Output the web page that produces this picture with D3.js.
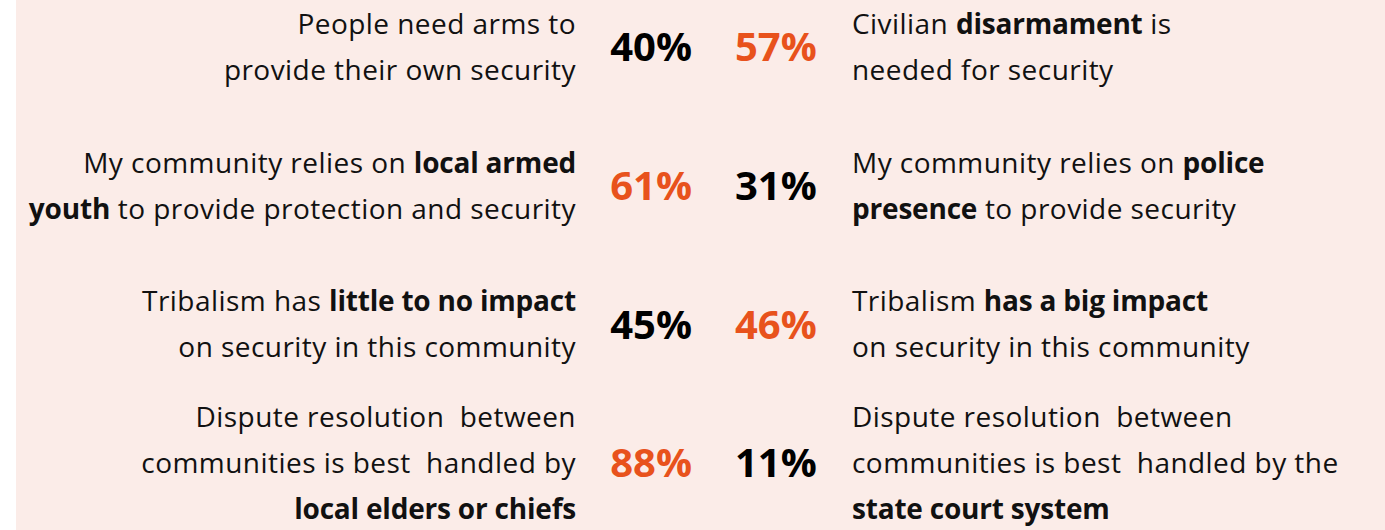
<!DOCTYPE html>
<html>
<head>
<meta charset="utf-8">
<script src="https://cdn.jsdelivr.net/npm/d3@7"></script>
<style>
  html, body { margin: 0; padding: 0; background: #ffffff; }
  svg { display: block; }
  text { white-space: pre; }
</style>
</head>
<body>
<svg id="chart" width="1385" height="530"></svg>
<script>
// ---- Data ----
const rows = ["arms", "youth", "tribalism", "dispute"];
const leftStatements = [
  ["People need arms to", "provide their own security"],
  ["My community relies on **local armed**", "**youth** to provide protection and security"],
  ["Tribalism has **little to no impact**", "on security in this community"],
  ["Dispute resolution  between", "communities is best  handled by", "**local elders or chiefs**"]
];
const rightStatements = [
  ["Civilian **disarmament** is", "needed for security"],
  ["My community relies on **police**", "**presence** to provide security"],
  ["Tribalism **has a big impact**", "on security in this community"],
  ["Dispute resolution  between", "communities is best  handled by the", "**state court system**"]
];
const leftValues = [40, 61, 45, 88];
const rightValues = [57, 31, 46, 11];

// ---- Style ----
const W = 1385, H = 530;
const bg = "#fbece8";
const orange = "#e8521c";
const dark = "#111111";
const fontFamily = "'Open Sans', 'Noto Sans', sans-serif";
const textSize = 28;
const letterSp = 0.45;
const boldLetterSp = -0.2;
const lineGap = 46;
const numSize = 40;

const svg = d3.select("#chart");
svg.append("rect").attr("x", 16).attr("y", 0).attr("width", W - 16).attr("height", H).attr("fill", bg);

const y = d3.scalePoint().domain(rows).range([47, 463]);
const xLeftText = 576, xLeftNum = 692, xRightNum = 735, xRightText = 852;

function parseSegs(line) {
  const parts = line.split("**");
  return parts.map((t, i) => ({ text: t, bold: i % 2 === 1 })).filter(s => s.text.length);
}

function drawStatement(lines, cx, anchor, cy) {
  const n = lines.length;
  const capHalf = textSize * 0.355;
  lines.forEach((line, i) => {
    const t = svg.append("text")
      .attr("x", cx)
      .attr("y", cy + (i - (n - 1) / 2) * lineGap + capHalf)
      .attr("text-anchor", anchor)
      .attr("font-family", fontFamily)
      .attr("font-size", textSize)
      .attr("fill", dark);
    t.selectAll("tspan").data(parseSegs(line)).join("tspan")
      .attr("font-weight", d => d.bold ? 700 : 400)
      .attr("letter-spacing", d => d.bold ? boldLetterSp : letterSp)
      .text(d => d.text);
  });
}

rows.forEach((r, i) => {
  const cy = y(r);
  drawStatement(leftStatements[i], xLeftText, "end", cy);
  drawStatement(rightStatements[i], xRightText, "start", cy);
  const lv = leftValues[i], rv = rightValues[i];
  svg.append("text")
    .attr("x", xLeftNum).attr("y", cy + numSize * 0.36)
    .attr("text-anchor", "end")
    .attr("font-family", fontFamily).attr("font-weight", 700)
    .attr("font-size", numSize)
    .attr("fill", lv > rv ? orange : "#000")
    .text(d3.format("d")(lv) + "%");
  svg.append("text")
    .attr("x", xRightNum).attr("y", cy + numSize * 0.36)
    .attr("text-anchor", "start")
    .attr("font-family", fontFamily).attr("font-weight", 700)
    .attr("font-size", numSize)
    .attr("fill", rv > lv ? orange : "#000")
    .text(d3.format("d")(rv) + "%");
});
</script>
</body>
</html>
